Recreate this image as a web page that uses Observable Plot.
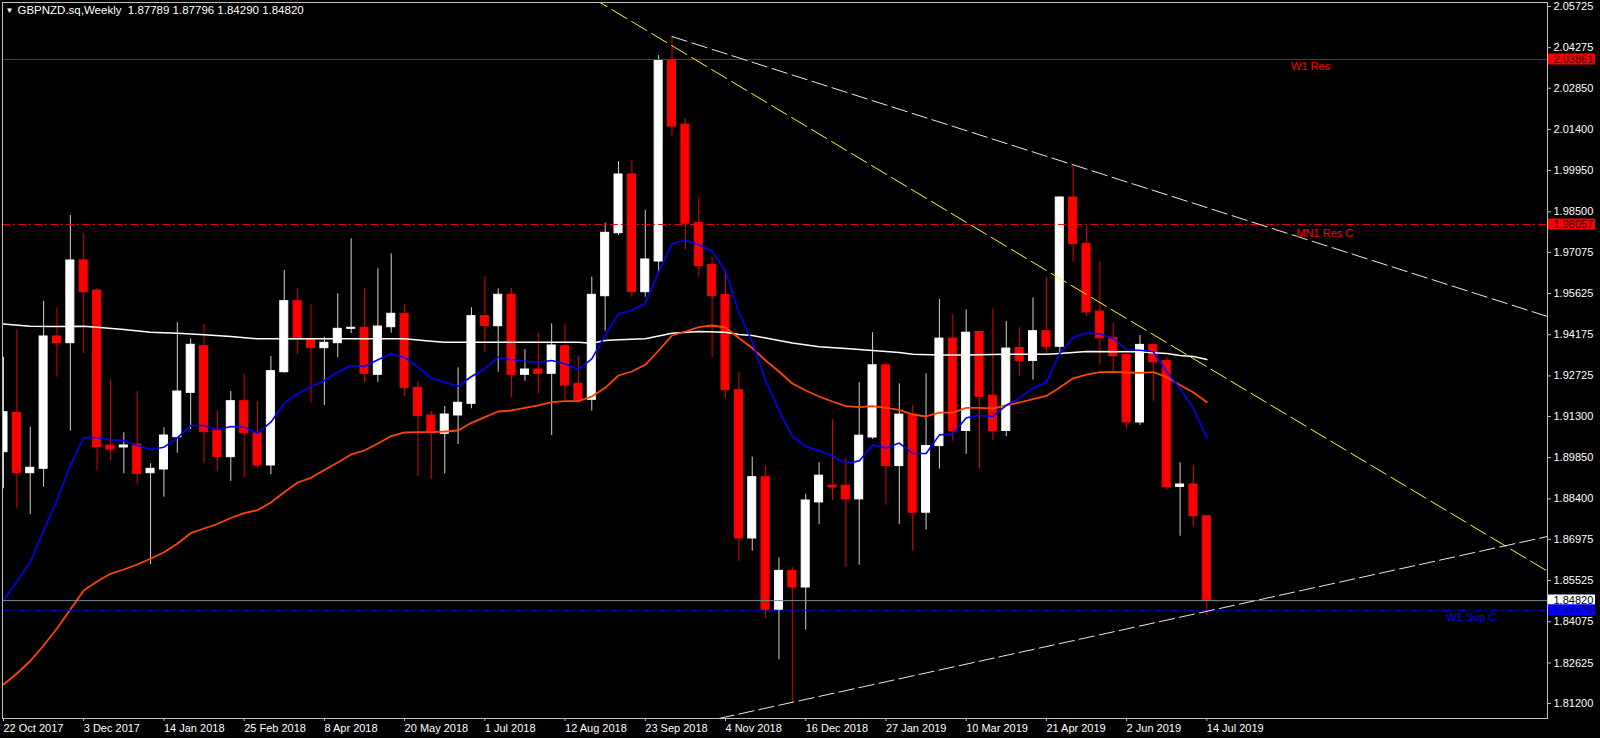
<!DOCTYPE html>
<html><head><meta charset="utf-8">
<script src="https://cdn.jsdelivr.net/npm/d3@7"></script>
<script src="https://cdn.jsdelivr.net/npm/@observablehq/plot@0.6"></script>
<style>html,body{margin:0;padding:0;background:#000;overflow:hidden}#chart{width:1600px;height:738px}</style>
</head><body><div id="chart"></div>
<script>
// Weekly GBPNZD candles, week index 0 = 22 Oct 2017
const open = [1.90042,1.91429,1.89304,1.89458,1.94114,1.93878,1.96788,1.95732,1.90278,1.90208,
1.90313,1.89304,1.89434,1.90570,1.92132,1.93772,1.90806,1.89867,1.91837,1.90711,
1.89575,1.92857,1.95356,1.93997,1.93702,1.93878,1.94384,1.94420,1.92766,1.94441,
1.94912,1.92308,1.91334,1.90690,1.91334,1.91745,1.94828,1.94476,1.95581,1.92766,
1.92952,1.92801,1.93772,1.92449,1.91886,1.95531,1.97748,1.99814,1.95672,1.96752,
2.03825,2.01573,1.98100,1.96636,1.95581,1.92224,1.87006,1.89163,1.84497,1.85866,
1.85282,1.88276,1.88864,1.88864,1.88382,1.90560,1.93100,1.89553,1.91365,1.87914,
1.90257,1.94040,1.90792,1.94272,1.92030,1.90792,1.93712,1.93255,1.94300,1.93751,
1.99004,1.97375,1.94990,1.94068,1.93459,1.91088,1.93818,1.93251,1.88818,1.88906,
1.87789];
const high = [1.93385,1.94349,1.90922,1.95356,1.95123,1.98371,1.97727,1.95813,1.92590,1.90725,
1.92178,1.89634,1.90901,1.94595,1.94032,1.94536,1.91475,1.92178,1.92776,1.91826,
1.93410,1.96436,1.95792,1.95239,1.94089,1.95616,1.97551,1.95792,1.96496,1.97023,
1.95229,1.92530,1.91475,1.91650,1.93012,1.95123,1.96225,1.95792,1.95813,1.93656,
1.94230,1.94560,1.94525,1.93410,1.96200,1.98100,2.00271,2.00306,1.98547,2.04001,
2.04669,2.01773,1.98994,1.96882,1.96460,1.92840,1.89867,1.89581,1.86323,1.85996,
1.88565,1.89673,1.91182,1.89817,1.92488,1.94247,1.93128,1.92449,1.91693,1.92801,
1.95419,1.94884,1.95053,1.94289,1.95081,1.94638,1.94430,1.95472,1.96189,1.99029,
2.00165,1.97984,1.96749,1.94571,1.93480,1.94145,1.93832,1.93385,1.89669,1.89575,
1.87796];
const low = [1.88755,1.88072,1.87850,1.88811,1.92681,1.90781,1.93505,1.89374,1.89750,1.89282,
1.88895,1.86091,1.88459,1.90007,1.90841,1.89634,1.89363,1.89012,1.89128,1.89480,
1.89247,1.92822,1.93480,1.91767,1.91686,1.93364,1.94208,1.92484,1.92505,1.94230,
1.92002,1.89198,1.89082,1.89282,1.90313,1.91569,1.93561,1.92857,1.91956,1.92541,
1.92097,1.90630,1.91862,1.91767,1.91485,1.94300,1.97667,1.95496,1.95496,1.96341,
2.01126,1.97164,1.96200,1.93364,1.91921,1.86193,1.86559,1.84173,1.82738,1.81239,
1.83783,1.87495,1.88343,1.85996,1.86063,1.90493,1.88174,1.87495,1.86559,1.87301,
1.89451,1.90429,1.89972,1.89451,1.90454,1.90584,1.92710,1.92579,1.93491,1.93466,
1.96717,1.94824,1.93097,1.92900,1.90845,1.90985,1.91830,1.88709,1.87083,1.87400,
1.84290];
const close = [1.91450,1.89304,1.89494,1.94114,1.93878,1.96788,1.95672,1.90218,1.90137,1.90278,
1.89282,1.89458,1.90630,1.92178,1.93821,1.90746,1.89867,1.91837,1.90711,1.89575,
1.92893,1.95356,1.93997,1.93702,1.93892,1.94384,1.94420,1.92801,1.94465,1.94912,
1.92294,1.91309,1.90711,1.91369,1.91781,1.94828,1.94476,1.95581,1.92766,1.92952,
1.92801,1.93797,1.92389,1.91862,1.95581,1.97762,1.99814,1.95672,1.96823,2.03825,
2.01503,1.98079,1.96587,1.95531,1.92224,1.87006,1.89163,1.84497,1.85866,1.85282,
1.88343,1.89216,1.88800,1.88382,1.90623,1.93100,1.89553,1.91365,1.87914,1.90257,
1.94040,1.90781,1.94247,1.91992,1.90792,1.93688,1.93255,1.94300,1.93751,1.99004,
1.97361,1.94961,1.94050,1.93417,1.91088,1.93818,1.93206,1.88808,1.88906,1.87787,
1.84820];

// moving averages (one value per week)
const maBlue = [1.84824,1.85493,1.86172,1.87287,1.88343,1.89575,1.90560,1.90549,1.90479,1.90454,
1.90278,1.90137,1.90218,1.90549,1.90982,1.90982,1.90831,1.90947,1.90922,1.90711,
1.91098,1.91766,1.92097,1.92354,1.92565,1.92857,1.93093,1.93058,1.93294,1.93505,
1.93375,1.93033,1.92646,1.92505,1.92365,1.92706,1.92977,1.93385,1.93294,1.93244,
1.93209,1.93269,1.93153,1.92952,1.93329,1.94149,1.94912,1.95028,1.95285,1.96376,
1.97375,1.97491,1.97340,1.97115,1.96401,1.94958,1.93938,1.92565,1.91510,1.90595,
1.90243,1.90102,1.89905,1.89645,1.89736,1.90299,1.90194,1.90363,1.89997,1.89997,
1.90651,1.90690,1.91249,1.91341,1.91299,1.91693,1.91953,1.92294,1.92509,1.93515,
1.94078,1.94233,1.94208,1.94043,1.93649,1.93631,1.93575,1.92882,1.92284,1.91580,
1.90549];
const maOrange = [1.81869,1.82256,1.82696,1.83241,1.83839,1.84508,1.85176,1.85493,1.85764,1.85915,
1.86091,1.86292,1.86524,1.86819,1.87192,1.87358,1.87516,1.87727,1.87896,1.88005,
1.88273,1.88635,1.88976,1.89142,1.89416,1.89680,1.89962,1.90102,1.90349,1.90612,
1.90736,1.90746,1.90746,1.90771,1.90806,1.91077,1.91274,1.91475,1.91510,1.91605,
1.91686,1.91802,1.91837,1.91837,1.92002,1.92308,1.92741,1.92882,1.93118,1.93621,
1.94149,1.94289,1.94441,1.94501,1.94430,1.94061,1.93709,1.93269,1.92882,1.92460,
1.92213,1.92002,1.91826,1.91665,1.91626,1.91665,1.91601,1.91534,1.91369,1.91299,
1.91432,1.91432,1.91601,1.91601,1.91580,1.91693,1.91791,1.91914,1.92020,1.92319,
1.92643,1.92776,1.92861,1.92871,1.92847,1.92836,1.92861,1.92681,1.92407,1.92143,
1.91802];
const maWhiteWeeks = [0,2,4,6,7,9,11,13,15,17,19,30,32,33,43,44,45,46,48,49,50,52,54,55,56,58,59,61,63,65,67,68,70,72,75,78,79,81,85,86,87,88,89,90];
const maWhiteValues = [1.94553,1.94476,1.94465,1.94476,1.94441,1.94360,1.94265,1.94230,1.94173,1.94114,
1.94032,1.94032,1.93948,1.93913,1.93913,1.93878,1.93973,1.93997,1.94032,1.94131,
1.94230,1.94289,1.94265,1.94184,1.94149,1.93973,1.93881,1.93751,1.93688,1.93621,
1.93554,1.93491,1.93466,1.93466,1.93487,1.93487,1.93515,1.93582,1.93575,1.93540,
1.93515,1.93445,1.93410,1.93304];

// axis ticks
const tickWeeks = [0,6,12,18,24,30,36,42,48,54,60,66,72,78,84,90];
const tickLabels = ["22 Oct 2017","3 Dec 2017","14 Jan 2018","25 Feb 2018","8 Apr 2018","20 May 2018","1 Jul 2018","12 Aug 2018","23 Sep 2018","4 Nov 2018","16 Dec 2018","27 Jan 2019","10 Mar 2019","21 Apr 2019","2 Jun 2019","14 Jul 2019"];
const priceTicks = [2.05725,2.04275,2.02850,2.01400,1.99950,1.98500,1.97075,1.95625,1.94175,1.92725,1.91300,1.89850,1.88400,1.86975,1.85525,1.84075,1.82625,1.81200];

// horizontal levels
const levelNames = ["W1 Res","MN1 Res C","W1 Sup C"];
const levelPrices = [2.03861,1.98057,1.84479];
const levelLabelWeeks = [96.3,96.7,107.9];

// trend lines (week, price) end points
const upperLineWeeks = [50,115.48], upperLinePrices = [2.04669,1.94817];
const yellowLineWeeks = [44,115.48], yellowLinePrices = [2.06040,1.85855];
const lowerLineWeeks = [52,115.48], lowerLinePrices = [1.80518,1.87076];

const titleText = "GBPNZD.sq,Weekly\u00a0\u00a01.87789 1.87796 1.84290 1.84820";

// ---------- build ----------
const pxPerWeek = 13.37;
const xEnd = 115.48;
const candles = open.map((o,i)=>({i, open:o, high:high[i], low:low[i], close:close[i], up: close[i] >= o}));
const blue = maBlue.map((v,i)=>({i, v}));
const orange = maOrange.map((v,i)=>({i, v}));
const white = maWhiteWeeks.map((w,k)=>({i:w, v:maWhiteValues[k]}));
const toPts = (ws, ps) => ws.map((w,k)=>({i:w, v:ps[k]}));
const last = close[close.length-1];
const boxes = [
  {price: levelPrices[0], bg:"#ff0000", fg:"#300000"},
  {price: levelPrices[1], bg:"#ff0000", fg:"#300000"},
  {price: last, bg:"#ffffff", fg:"#000000"},
  {price: levelPrices[2], bg:"#0000ff", fg:"#000060"}
];
const levelDy = [3, 5, 3];
const levels = levelNames.map((n,k)=>({name:n, price:levelPrices[k], w:levelLabelWeeks[k], color: k==2 ? "#0000ff" : "#ff0000", dy: levelDy[k]}));
const boxW = 47/pxPerWeek, boxGap = 1/pxPerWeek;

const chart = Plot.plot({
  width: 1600, height: 738,
  marginLeft: 2, marginRight: 53, marginTop: 2, marginBottom: 20,
  style: {background:"#000", color:"#fff", fontFamily:"'Liberation Sans', Arial, sans-serif", fontSize:"11px"},
  x: {type:"linear", domain:[-1/pxPerWeek, xEnd]},
  y: {type:"linear", domain:[1.80672, 2.05866]},
  marks: [
    Plot.axisY(priceTicks, {anchor:"right", tickSize:3, tickPadding:3, tickFormat:d=>d.toFixed(5), stroke:"#c0c0c0", fill:"#fff", label:null}),
    Plot.axisX(tickWeeks, {anchor:"bottom", tickSize:3, tickPadding:3, tickFormat:d=>tickLabels[tickWeeks.indexOf(d)], textAnchor:"start", stroke:"#c0c0c0", fill:"#fff", label:null}),
    Plot.ruleX(candles, {x:"i", y1:"low", y2:"high", stroke:d=>d.up ? "#d0d0d0" : "#e00000", strokeWidth:1, clip:true}),
    Plot.rect(candles, {x1:d=>d.i-0.3, x2:d=>d.i+0.3, y1:"open", y2:"close", fill:d=>d.up ? "#ffffff" : "#ff0000", stroke:d=>d.up ? "#ffffff" : "#ff0000", strokeWidth:1, clip:true}),
    Plot.line(white, {x:"i", y:"v", stroke:"#ffffff", strokeWidth:1.5, clip:true}),
    Plot.line(orange, {x:"i", y:"v", stroke:"#ff4500", strokeWidth:1.8, clip:true}),
    Plot.line(blue, {x:"i", y:"v", stroke:"#0000ff", strokeWidth:1.6, clip:true}),
    Plot.ruleY([levelPrices[0]], {stroke:"#e00000", strokeWidth:1}),
    Plot.ruleY([levelPrices[1]], {stroke:"#ff0000", strokeWidth:1, strokeDasharray:"8,3,2,3"}),
    Plot.ruleY([last], {stroke:"#778899", strokeWidth:1}),
    Plot.ruleY([levelPrices[2]], {stroke:"#0000ff", strokeWidth:1, strokeDasharray:"8,3,2,3"}),
    Plot.line(toPts(upperLineWeeks, upperLinePrices), {x:"i", y:"v", stroke:"#e8e8e8", strokeWidth:1, strokeDasharray:"15.7,5.3", clip:true}),
    Plot.line(toPts(yellowLineWeeks, yellowLinePrices), {x:"i", y:"v", stroke:"#ffff00", strokeWidth:1, strokeDasharray:"17.5,5.8", clip:true}),
    Plot.line(toPts(lowerLineWeeks, lowerLinePrices), {x:"i", y:"v", stroke:"#e8e8e8", strokeWidth:1, strokeDasharray:"15.4,5.1", clip:true}),
    ...levels.map(l => Plot.text([l], {x:"w", y:"price", text:"name", fill:"color", textAnchor:"start", lineAnchor:"top", dy:l.dy, fontSize:11})),
    Plot.frame({stroke:"#c0c0c0"}),
    Plot.ruleY(boxes, {y:"price", x1:()=>xEnd+boxGap, x2:()=>xEnd+boxGap+boxW, stroke:"bg", strokeWidth:11, dy:-0.5}),
    Plot.text(boxes, {x:()=>xEnd, y:"price", text:d=>d.price.toFixed(5), fill:"fg", textAnchor:"start", dx:6, fontSize:11}),
    Plot.text(["\u25BC"], {frameAnchor:"top-left", dx:3, dy:5, fill:"#fff", fontSize:8, textAnchor:"start", lineAnchor:"top"}),
    Plot.text([titleText], {frameAnchor:"top-left", dx:15, dy:3, fill:"#fff", fontSize:11.5, textAnchor:"start", lineAnchor:"top"})
  ]
});
document.getElementById("chart").appendChild(chart);
</script>
</body></html>
